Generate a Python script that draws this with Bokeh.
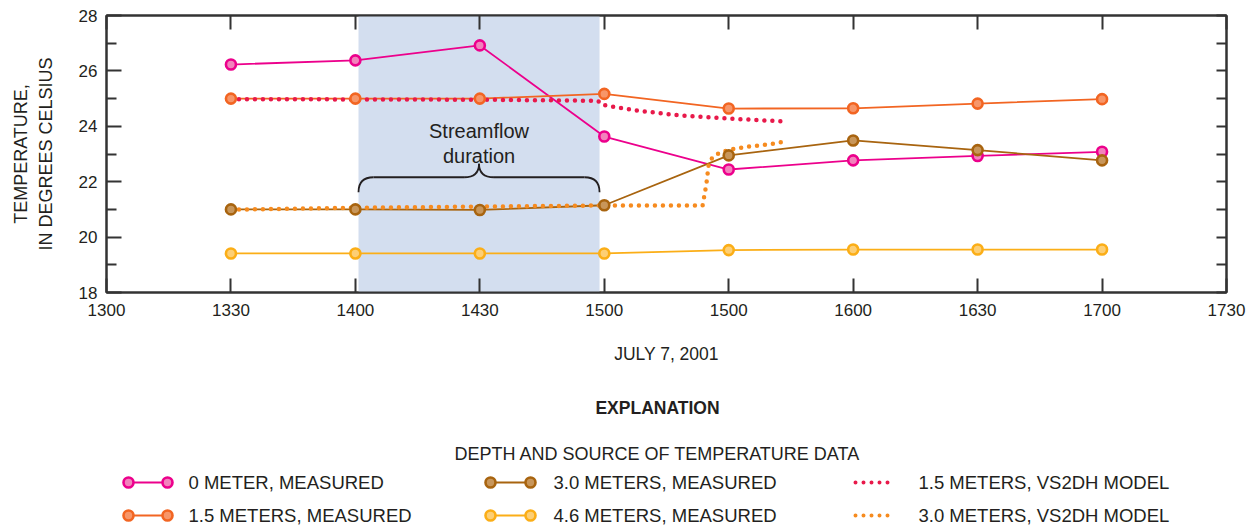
from bokeh.plotting import figure
from bokeh.models import Range1d, FixedTicker, LinearAxis, BoxAnnotation
from bokeh.layouts import column
from bokeh.core.properties import value
from bokeh.embed import file_html
from bokeh.resources import INLINE

# ---------------- data ----------------
TIME_LABELS = ["1300", "1330", "1400", "1430", "1500", "1500", "1600", "1630", "1700", "1730"]
TIME_POS = list(range(len(TIME_LABELS)))

MEAS_X = [1, 2, 3, 4, 5, 6, 7, 8]
M_0 = [26.23, 26.38, 26.92, 23.63, 22.44, 22.77, 22.93, 23.08]
M_15 = [25.0, 25.0, 25.0, 25.17, 24.64, 24.65, 24.82, 24.98]
M_30 = [21.0, 21.0, 20.98, 21.15, 22.95, 23.49, 23.14, 22.77]
M_46 = [19.41, 19.41, 19.41, 19.41, 19.53, 19.55, 19.55, 19.55]

MOD15_X = [1, 2, 3, 3.95, 3.98, 4.24, 4.61, 5.0, 5.42]
MOD15_Y = [24.98, 24.97, 24.96, 24.92, 24.78, 24.58, 24.39, 24.28, 24.18]

MOD30_X = [1, 2, 3, 3.96, 4.79, 4.80, 4.82, 4.84, 4.87, 4.93, 5.04, 5.18, 5.31, 5.43]
MOD30_Y = [20.99, 21.06, 21.10, 21.14, 21.14, 21.39, 21.9, 22.66, 22.88, 23.06, 23.18, 23.28, 23.34, 23.43]

STREAMFLOW_START = 2.025
STREAMFLOW_END = 3.962

MEAS_NAMES = ["0 METER, MEASURED", "1.5 METERS, MEASURED", "3.0 METERS, MEASURED", "4.6 METERS, MEASURED"]
MEAS_LINE = ["#EC008C", "#F26522", "#A8640F", "#FBAE17"]
MEAS_FILL = ["#F282BC", "#F79669", "#C8965A", "#FDCF75"]
MOD_NAMES = ["1.5 METERS, VS2DH MODEL", "3.0 METERS, VS2DH MODEL"]
MOD_COLORS = ["#E8194A", "#F68B1F"]

FONT = "Liberation Sans"
INK = "#231F20"
FRAME = "#333333"

W = 1249
H_MAIN = 372
H_LEG = 157
B_LEFT, B_RIGHT = 106, 23

# ---------------- main plot ----------------
p = figure(width=W, height=H_MAIN, x_range=Range1d(0, 9), y_range=Range1d(18, 28),
           output_backend="svg", toolbar_location=None,
           min_border_left=B_LEFT, min_border_right=B_RIGHT, min_border_top=15,
           min_border_bottom=H_MAIN - 292,
           background_fill_color="white", border_fill_color="white")
p.grid.visible = False
p.outline_line_color = FRAME
p.outline_line_width = 2

p.add_layout(BoxAnnotation(left=STREAMFLOW_START, right=STREAMFLOW_END,
                           fill_color="#D3DEEF", fill_alpha=1, line_color=None, level="underlay"))

xt = FixedTicker(ticks=TIME_POS)
YMAJ = [18, 20, 22, 24, 26, 28]
YMIN = [19, 21, 23, 25, 27]
yt = FixedTicker(ticks=YMAJ, minor_ticks=YMIN)
overrides = {i: lab for i, lab in zip(TIME_POS, TIME_LABELS)}

ax = p.xaxis[0]
ax.ticker = xt
ax.major_label_overrides = overrides
ax.major_tick_in = 14
ax.major_tick_out = 0
ax.minor_tick_line_color = None
ax.axis_line_width = 2
ax.axis_line_color = FRAME
ax.major_tick_line_width = 2
ax.major_tick_line_color = FRAME
ax.major_label_text_font = FONT
ax.major_label_text_font_size = "17px"
ax.major_label_text_color = INK
ax.major_label_standoff = 11
ax.axis_label = "JULY 7, 2001"
ax.axis_label_text_font = FONT
ax.axis_label_text_font_size = "17.5px"
ax.axis_label_text_font_style = "normal"
ax.axis_label_text_color = INK
ax.axis_label_standoff = 25

ay = p.yaxis[0]
ay.ticker = yt
ay.major_tick_in = 15
ay.major_tick_out = 0
ay.minor_tick_in = 10
ay.minor_tick_out = 0
ay.axis_line_width = 2
ay.axis_line_color = FRAME
ay.major_tick_line_width = 2
ay.minor_tick_line_width = 2
ay.major_tick_line_color = FRAME
ay.minor_tick_line_color = FRAME
ay.major_label_text_font = FONT
ay.major_label_text_font_size = "17px"
ay.major_label_text_color = INK
ay.major_label_standoff = 9
ay.axis_label = "TEMPERATURE,\nIN DEGREES CELSIUS"
ay.axis_label_text_font = FONT
ay.axis_label_text_font_size = "18px"
ay.axis_label_text_font_style = "normal"
ay.axis_label_text_color = INK
ay.axis_label_text_line_height = 1.25
ay.axis_label_standoff = 20

top = LinearAxis(ticker=xt, major_tick_in=14, major_tick_out=0, minor_tick_line_color=None,
                 axis_line_width=2, axis_line_color=FRAME, major_tick_line_width=2,
                 major_tick_line_color=FRAME, major_label_text_font_size="1px",
                 major_label_overrides={i: "" for i in TIME_POS}, major_label_standoff=0)
p.add_layout(top, "above")
right = LinearAxis(ticker=yt, major_tick_in=10, major_tick_out=0, minor_tick_in=10, minor_tick_out=0,
                   axis_line_width=2, axis_line_color=FRAME, major_tick_line_width=2,
                   minor_tick_line_width=2, major_tick_line_color=FRAME, minor_tick_line_color=FRAME,
                   major_label_text_font_size="1px",
                   major_label_overrides={v: "" for v in YMAJ}, major_label_standoff=0)
p.add_layout(right, "right")

# measured lines
series = [M_0, M_15, M_30, M_46]
for ys, lc in zip(series, MEAS_LINE):
    p.line(MEAS_X, ys, line_color=lc, line_width=1.8)

# model dotted lines
for xs, ys, c in [(MOD15_X, MOD15_Y, MOD_COLORS[0]), (MOD30_X, MOD30_Y, MOD_COLORS[1])]:
    p.line(xs, ys, line_color=c, line_width=4.5, line_dash="0 8", line_cap="round",
           line_join="round")

# markers
for ys, lc, fc in zip(series, MEAS_LINE, MEAS_FILL):
    p.scatter(MEAS_X, ys, size=10, marker="circle", line_color=lc, fill_color=fc, line_width=2.6)

# brace + text
L, R = STREAMFLOW_START, STREAMFLOW_END
M = (L + R) / 2
TIP, BAR, PEAK, CW = 21.62, 22.16, 22.65, 0.12
p.quadratic(x0=[L, R], y0=[TIP, TIP], x1=[L + CW, R - CW], y1=[BAR, BAR], cx=[L, R], cy=[BAR, BAR],
            line_color=INK, line_width=1.8)
p.segment(x0=[L + CW, M + CW], y0=[BAR, BAR], x1=[M - CW, R - CW], y1=[BAR, BAR],
          line_color=INK, line_width=1.8)
p.quadratic(x0=[M - CW, M + CW], y0=[BAR, BAR], x1=[M, M], y1=[PEAK, PEAK], cx=[M, M], cy=[BAR, BAR],
            line_color=INK, line_width=1.8)
p.text(x=[M], y=[23.38], text=["Streamflow\nduration"], text_align="center", text_baseline="middle",
       text_font=value(FONT), text_font_size="20px", text_color=INK, text_line_height=1.1)

# ---------------- explanation (coordinates = picture pixels) ----------------
lg = figure(width=W, height=H_LEG, x_range=Range1d(B_LEFT, W - B_RIGHT),
            y_range=Range1d(H_MAIN + H_LEG, H_MAIN),
            output_backend="svg", toolbar_location=None,
            min_border_left=B_LEFT, min_border_right=B_RIGHT, min_border_top=0, min_border_bottom=0,
            x_axis_type=None, y_axis_type=None, outline_line_color=None)
lg.grid.visible = False

lg.text(x=[657], y=[407], text=["EXPLANATION"], text_align="center", text_baseline="middle",
        text_font=value(FONT), text_font_size="17.5px", text_font_style="bold", text_color=INK)
lg.text(x=[657], y=[453], text=["DEPTH AND SOURCE OF TEMPERATURE DATA"], text_align="center",
        text_baseline="middle", text_font=value(FONT), text_font_size="18px", text_color=INK)

ROWS = [482, 515]
COLS = [(128, 167, 188), (490, 530, 553)]
for i, (name, lc, fc) in enumerate(zip(MEAS_NAMES, MEAS_LINE, MEAS_FILL)):
    col, row = divmod(i, 2)
    a, b, t = COLS[col]
    yy = ROWS[row]
    lg.line([a, b], [yy, yy], line_color=lc, line_width=1.8)
    lg.scatter([a, b], [yy, yy], size=10, marker="circle", line_color=lc, fill_color=fc, line_width=2.6)
    lg.text(x=[t], y=[yy], text=[name], text_baseline="middle", text_font=value(FONT),
            text_font_size="18.5px", text_color=INK)

for j, (name, c) in enumerate(zip(MOD_NAMES, MOD_COLORS)):
    yy = ROWS[j]
    lg.line([855, 889], [yy, yy], line_color=c, line_width=4, line_dash="0 8", line_cap="round")
    lg.text(x=[918], y=[yy], text=[name], text_baseline="middle", text_font=value(FONT),
            text_font_size="18.5px", text_color=INK)

layout = column(p, lg, spacing=0)
open("out.html", "w").write(file_html(layout, INLINE))
